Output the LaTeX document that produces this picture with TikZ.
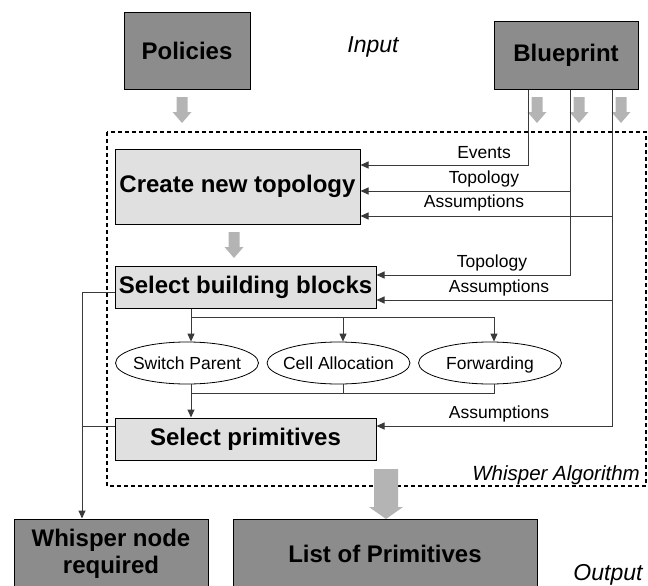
\documentclass[tikz,border=0pt]{standalone}
\usepackage{fontspec}
\setmainfont{Liberation Sans}
\usetikzlibrary{arrows.meta,shapes.geometric}
\definecolor{darkfill}{HTML}{8C8C8C}
\definecolor{lightfill}{HTML}{E0E0E0}
\definecolor{arrowgray}{HTML}{B4B4B4}
\definecolor{wire}{HTML}{3A3A3A}
\begin{document}
\begin{tikzpicture}[x=1pt,y=-1pt,
  darkbox/.style={draw=black, line width=1pt, fill=darkfill, font=\fontsize{24}{27}\selectfont\bfseries, align=center, inner sep=0pt},
  lightbox/.style={draw=black, line width=1pt, fill=lightfill, font=\fontsize{24}{27}\selectfont\bfseries, align=center, inner sep=0pt},
  oval/.style={ellipse, draw=black, line width=0.8pt, minimum width=143pt, minimum height=42pt, inner sep=0pt, text height=14.5pt, text depth=1.5pt, font=\fontsize{17.5}{20}\selectfont},
  lab/.style={font=\fontsize{17.5}{20}\selectfont, inner sep=0pt},
  itlab/.style={font=\fontsize{23}{26}\selectfont\itshape, inner sep=0pt},
  wireline/.style={draw=wire, line width=1pt},
  conn/.style={wireline, -{Triangle[length=8pt,width=7pt]}},
  pics/smallarrow/.style={code={\fill[arrowgray] (-5.5,0) -- (5.5,0) -- (5.5,15) -- (9.5,15) -- (0,26) -- (-9.5,15) -- (-5.5,15) -- cycle;}},
  pics/bigarrow/.style={code={\fill[arrowgray] (-12,0) -- (12,0) -- (12,38) -- (17,38) -- (0,50) -- (-17,38) -- (-12,38) -- cycle;}}
]
\useasboundingbox (0,0) rectangle (648,586);
\clip (0,0) rectangle (648,586);

% dashed algorithm frame
\draw[black, line width=1.2pt, dash pattern=on 4pt off 3pt] (107,132) rectangle (646,486);
\node[itlab, font=\fontsize{20.5}{23}\selectfont\itshape, anchor=east] (walg) at (640,475) {Whisper Algorithm};

% input boxes
\node[darkbox, minimum width=126pt, minimum height=76pt] (pol) at (187,51) {Policies};
\node[itlab] (input) at (373,47) {Input};
\node[darkbox, minimum width=144pt, minimum height=67pt] (bp) at (566,55.5) {Blueprint};

% gray flow arrows
\pic at (182,97) {smallarrow};
\pic at (537,97) {smallarrow};
\pic at (579,97) {smallarrow};
\pic at (621,97) {smallarrow};
\pic at (234,232) {smallarrow};
\pic at (386,469) {bigarrow};

% algorithm blocks
\node[lightbox, minimum width=245pt, minimum height=75pt] (create) at (237.5,186.5) {Create new topology};
\node[lightbox, minimum width=261pt, minimum height=42pt] (sbb) at (245.5,287) {Select building blocks};
\node[lightbox, minimum width=261pt, minimum height=42pt] (sp) at (245.5,439) {Select primitives};

\node[oval] (sw) at (187,363) {\makebox[0pt]{Switch Parent}};
\node[oval] (ca) at (338.5,363) {\makebox[0pt]{Cell Allocation}};
\node[oval] (fw) at (490,363) {\makebox[0pt]{Forwarding}};

% output boxes
\node[darkbox, minimum width=194pt, minimum height=70pt] (wn) at (111,554) {Whisper node\\required};
\node[darkbox, minimum width=304pt, minimum height=70pt] (lp) at (385,554) {List of Primitives};
\node[itlab] (output) at (608,575) {Output};

% blueprint feeds
\draw[conn] ([xshift=35pt]bp.south west) |- ([yshift=21.5pt]create.east);
\draw[conn] ([xshift=77pt]bp.south west) |- ([yshift=-4.5pt]create.east);
\draw[conn] ([xshift=119pt]bp.south west) |- ([yshift=-29.5pt]create.east);
\draw[conn] ([xshift=77pt]bp.south west) |- ([yshift=12pt]sbb.east);
\draw[conn] ([xshift=119pt]bp.south west) |- ([yshift=-13pt]sbb.east);
\draw[conn] ([xshift=119pt]bp.south west) |- ([yshift=13pt]sp.east);

\node[lab] (l1) at (484,153) {Events};
\node[lab] (l2) at (484,179) {Topology};
\node[lab] (l3) at (474,203) {Assumptions};
\node[lab] (l4) at (492,263) {Topology};
\node[lab] (l5) at (499,288) {Assumptions};
\node[lab] (l6) at (499,414) {Assumptions};

% branching to building blocks
\coordinate (br) at (0,317);
\coordinate (mg) at (0,393);
\coordinate (lx) at (82,0);
\coordinate (b1) at (191,0);
\coordinate (b2) at (343,0);
\coordinate (b3) at (494,0);
\draw[wireline] (b1 |- br) -- (b3 |- br);
\draw[conn] (b1 |- sbb.south) -- (b1 |- sw.north);
\draw[conn] (b2 |- br) -- (b2 |- ca.north);
\draw[conn] (b3 |- br) -- (b3 |- fw.north);

% merge to select primitives
\draw[wireline] (b3 |- fw.south) |- (b1 |- mg);
\draw[wireline] (b2 |- ca.south) -- (b2 |- mg);
\draw[conn] (b1 |- sw.south) -- (b1 |- sp.north);

% whisper node required branch
\draw[conn] ([yshift=-5pt]sbb.west) -| (lx |- wn.north);
\draw[wireline] ([yshift=13pt]sp.west) -- ([yshift=13pt]sp.west -| lx);
\end{tikzpicture}
\end{document}
